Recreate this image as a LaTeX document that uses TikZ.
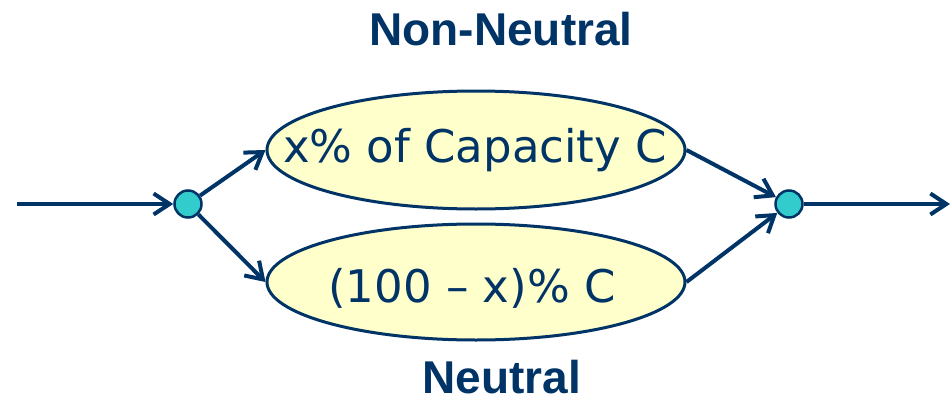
\documentclass[tikz,border=0pt]{standalone}
\usepackage{fontspec}
\setmainfont{Liberation Sans}
\newfontfamily\handfont{DejaVu Sans}
\usetikzlibrary{arrows.meta,shapes.geometric}
\definecolor{navy}{RGB}{0,51,102}
\definecolor{dotfill}{RGB}{51,204,204}
\definecolor{ellfill}{RGB}{255,255,204}
\tikzset{
  conn/.style={draw=navy, line width=4pt, -{Straight Barb[length=16pt,width=21pt,line width=4pt]}},
  junction/.style={circle, draw=navy, line width=2.5pt, fill=dotfill, minimum size=27pt, inner sep=0pt},
  oval/.style={ellipse, draw=navy, line width=3pt, fill=ellfill, minimum width=418pt, minimum height=118pt, inner sep=0pt},
  ovaltext/.style={anchor=base, inner sep=0pt, font=\handfont\fontsize{45}{48}\selectfont, text=navy},
  title/.style={anchor=base, inner sep=0pt, font=\bfseries\fontsize{46}{50}\selectfont, text=navy}
}
\begin{document}
\begin{tikzpicture}[x=1pt,y=-1pt]
\useasboundingbox (0,0) rectangle (950,404);
\node[junction] (j1) at (188,204) {};
\node[junction] (j2) at (789,204) {};
\node[oval] (top) at (476,150) {};
\node[oval, minimum height=116pt] (bot) at (476,282) {};
\node[ovaltext] (toptext) at (475,162) {x\% of Capacity C};
\node[ovaltext] (bottext) at (472,302) {(100 – x)\% C};
\coordinate (in) at (17,204);
\coordinate (out) at (950,204);
\node[title] (t1) at (501,46) {Non-Neutral};
\node[title] (t2) at (502,393) {Neutral};
\draw[conn] (in) -- (j1);
\draw[conn] (j1) -- (top.west);
\draw[conn] (j1) -- (bot.west);
\draw[conn] (top.east) -- (j2);
\draw[conn] (bot.east) -- (j2);
\draw[conn] (j2) -- (out);
\end{tikzpicture}
\end{document}
